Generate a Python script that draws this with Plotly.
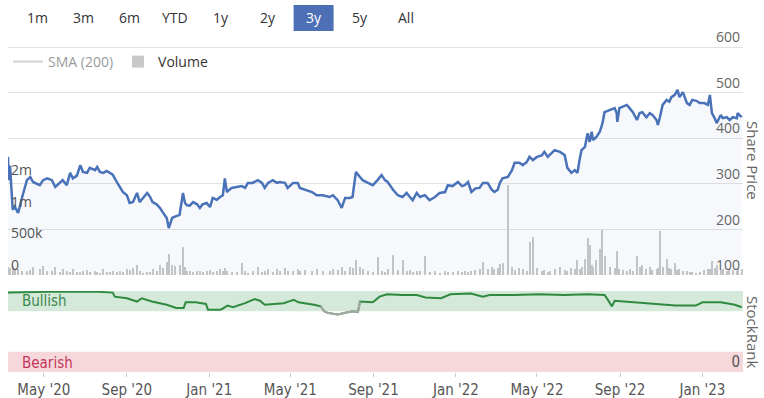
import pandas as pd
import plotly.graph_objects as go

# ---------------- data ----------------
start_date = pd.Timestamp("2020-03-09")

price_days = [0, 1, 3, 7, 10, 15, 21, 28, 33, 37, 47, 52, 58, 65, 70, 77, 81, 87, 92, 96,
              102, 107, 111, 117, 121, 129, 132, 136, 141, 146, 151, 155, 161, 166, 170, 176, 180, 185, 191, 195,
              200, 206, 210, 214, 220, 225, 229, 235, 238, 243, 247, 254, 259, 262, 265, 269, 274, 280, 284, 288,
              294, 299, 303, 309, 314, 318, 321, 324, 331, 339, 346, 351, 355, 362, 370, 376, 380, 385, 392, 398,
              402, 410, 414, 422, 429, 432, 439, 450, 457, 466, 476, 481, 488, 494, 499, 506, 510, 515, 521, 525,
              533, 540, 547, 553, 558, 562, 570, 577, 584, 590, 595, 599, 605, 610, 617, 624, 632, 639, 647, 651,
              658, 666, 672, 676, 681, 686, 692, 698, 703, 710, 716, 720, 725, 728, 732, 740, 746, 750, 757, 762,
              768, 772, 777, 783, 790, 794, 799, 802, 809, 817, 824, 828, 834, 839, 843, 846, 849, 854, 858, 861,
              864, 866, 871, 876, 880, 883, 891, 898, 901, 902, 905, 910, 916, 920, 925, 931, 935, 939, 945, 950,
              954, 960, 962, 965, 969, 975, 979, 982, 987, 991, 994, 999, 1005, 1009, 1013, 1019, 1024, 1031, 1036, 1039,
              1042, 1046, 1049, 1055, 1058, 1064, 1068, 1073, 1079, 1080, 1086]

share_price = [359, 308, 340, 243, 250, 236, 271, 308, 315, 304, 297, 308, 312, 308, 293, 302, 308, 297, 324, 312,
               318, 341, 326, 324, 335, 330, 337, 326, 324, 328, 324, 320, 304, 291, 282, 275, 258, 260, 280, 260,
               268, 280, 272, 260, 255, 247, 238, 225, 203, 225, 228, 232, 280, 258, 253, 252, 260, 255, 247, 255,
               258, 249, 269, 265, 271, 275, 312, 282, 291, 293, 295, 291, 302, 302, 308, 302, 291, 302, 308, 302,
               304, 302, 291, 302, 302, 291, 287, 282, 275, 275, 271, 275, 264, 247, 269, 269, 271, 326, 315, 308,
               302, 297, 308, 319, 308, 304, 287, 275, 271, 280, 271, 264, 280, 271, 275, 264, 271, 280, 282, 297,
               295, 304, 295, 297, 304, 282, 290, 291, 302, 302, 287, 282, 287, 302, 312, 315, 330, 346, 346, 341,
               348, 359, 352, 359, 362, 370, 359, 363, 374, 370, 363, 335, 324, 330, 324, 352, 374, 381, 411, 392,
               414, 396, 403, 414, 433, 457, 462, 466, 455, 436, 466, 469, 473, 466, 457, 440, 455, 457, 446, 455,
               451, 440, 429, 446, 473, 484, 480, 490, 495, 506, 490, 501, 477, 473, 484, 482, 477, 477, 473, 495,
               455, 444, 433, 451, 444, 446, 440, 446, 444, 455, 446]

volume_thousands = [120, 90, 110, 140, 100, 90, 70, 60, 80, 120, 90, 140, 60, 70, 130, 50, 100, 60, 40, 90,
                    50, 40, 60, 80, 50, 70, 40, 30, 90, 40, 50, 60, 40, 70, 50, 90, 80, 110, 160, 60,
                    30, 40, 50, 90, 70, 150, 110, 200, 330, 160, 140, 150, 440, 120, 70, 60, 40, 70, 60, 50,
                    60, 80, 50, 60, 90, 70, 110, 60, 40, 50, 190, 60, 30, 70, 120, 40, 60, 90, 50, 100,
                    60, 110, 70, 60, 100, 70, 80, 60, 90, 70, 60, 90, 80, 120, 70, 130, 110, 235, 120, 90,
                    60, 40, 280, 60, 40, 90, 315, 80, 240, 60, 80, 50, 70, 60, 300, 40, 60, 30, 70, 50,
                    40, 60, 50, 70, 40, 60, 80, 90, 205, 100, 120, 90, 110, 175, 190, 1420, 130, 80, 110, 90,
                    70, 520, 600, 110, 60, 80, 40, 70, 90, 120, 80, 60, 110, 90, 235, 100, 130, 250, 590, 470,
                    150, 120, 235, 410, 710, 300, 120, 110, 90, 380, 100, 80, 60, 90, 70, 300, 130, 160, 100, 120,
                    80, 90, 110, 700, 130, 250, 110, 90, 190, 80, 100, 70, 60, 40, 50, 30, 40, 80, 90, 100,
                    220, 110, 150, 80, 90, 70, 100, 80, 60, 110, 90]

rank_days = [0, 61, 133, 155, 158, 176, 191, 198, 213, 235, 249, 260, 263, 278, 293, 296, 315, 325, 333, 351,
             365, 373, 380, 395, 408, 423, 430, 453, 463, 468, 473, 488, 503, 510, 518, 521, 540, 550, 561, 583,
             605, 618, 641, 655, 685, 703, 713, 750, 786, 823, 858, 883, 888, 894, 898, 931, 960, 988, 1018, 1028,
             1055, 1076, 1086]
stock_rank = [98, 99, 99, 98, 93, 91, 87, 91, 87, 83, 79, 79, 86, 86, 84, 77, 77, 82, 80, 85,
              90, 88, 83, 84, 85, 89, 86, 83, 81, 75, 73, 71, 74, 75, 74, 87, 86, 93, 96, 95,
              95, 92, 91, 96, 97, 93, 95, 95, 96, 95, 96, 95, 89, 81, 88, 86, 84, 82, 82, 86,
              86, 83, 80]

range_buttons = ["1m", "3m", "6m", "YTD", "1y", "2y", "3y", "5y", "All"]
active_button = "3y"
volume_ticks = [0, 500000, 1000000, 1500000]
volume_tick_text = ["0", "500k", "1m", "2m"]

# ---------------- derived ----------------
price_dates = start_date + pd.to_timedelta(price_days, unit="D")
rank_dates = start_date + pd.to_timedelta(rank_days, unit="D")
volume = [v * 1000 for v in volume_thousands]

neutral_mask = [r < 76 for r in stock_rank]
gray_rank = []
for i, r in enumerate(stock_rank):
    near = neutral_mask[i] or (i > 0 and neutral_mask[i - 1]) or (i + 1 < len(stock_rank) and neutral_mask[i + 1])
    gray_rank.append(r if near else None)

BLUE = "#4a72b9"
GREEN = "#2f8a3f"
COND = "Liberation Sans Narrow, DejaVu Sans Condensed, Arial Narrow, sans-serif"
SANS = "Open Sans, Noto Sans, sans-serif"

W, H = 764, 398
ML, MR, MT, MB = 8, 21, 18, 26
pw, ph = W - ML - MR, H - MT - MB


def px_x(px):
    return (px - ML) / pw


def px_y(py):
    return (H - MB - py) / ph


# price axis: 600 at y=47, 100 at y=275
ppp = 228 / 500.0
price_top = 600 + (47 - MT) / ppp
vol_top = 500000 * (275 - MT) / 31.7

fig = go.Figure()
fig.add_trace(go.Scatter(x=price_dates[:1], y=[None], name="SMA (200)", visible="legendonly",
                         mode="lines", line=dict(color="#aaaaaa", width=2), xaxis="x", yaxis="y2"))
fig.add_trace(go.Bar(x=price_dates, y=volume, name="Volume", marker=dict(color="#c8c8c8", line=dict(width=0)),
                     width=86400000 * 1.5, xaxis="x", yaxis="y", hoverinfo="skip"))
fig.add_trace(go.Scatter(x=price_dates, y=share_price, name="Share Price", mode="lines", showlegend=False,
                         line=dict(color=BLUE, width=2.5), fill="tozeroy", fillcolor="rgba(70,110,200,0.05)",
                         xaxis="x", yaxis="y2"))
fig.add_trace(go.Scatter(x=rank_dates, y=stock_rank, name="StockRank", mode="lines", showlegend=False,
                         line=dict(color=GREEN, width=2), xaxis="x", yaxis="y3"))
fig.add_trace(go.Scatter(x=rank_dates, y=gray_rank, name="StockRank", mode="lines", showlegend=False,
                         line=dict(color="#a8a8a8", width=2), xaxis="x", yaxis="y3", connectgaps=False))

shapes = [
    dict(type="rect", xref="paper", yref="y3", x0=0, x1=1, y0=75, y1=100, fillcolor="#d5e9da",
         line=dict(width=0), layer="below"),
    dict(type="rect", xref="paper", yref="y3", x0=0, x1=1, y0=0, y1=25, fillcolor="#f6d7dc",
         line=dict(width=0), layer="below"),
]

annotations = []
for i, b in enumerate(range_buttons):
    cx = 37 + i * 46.1
    if b == active_button:
        shapes.append(dict(type="rect", xref="paper", yref="paper", x0=px_x(cx - 20), x1=px_x(cx + 20),
                           y0=px_y(31), y1=px_y(5), fillcolor="#4d6fb6", line=dict(width=0)))
    annotations.append(dict(text=b, xref="paper", yref="paper", x=px_x(cx), y=px_y(17), showarrow=False,
                            xanchor="center", yanchor="middle",
                            font=dict(family=SANS, size=14, color="#ffffff" if b == active_button else "#333333")))

annotations += [
    dict(text="Share Price", xref="paper", yref="paper", x=px_x(753), y=px_y(160), textangle=90,
         xanchor="center", yanchor="middle",
         showarrow=False, font=dict(family=SANS, size=15, color="#666666")),
    dict(text="StockRank", xref="paper", yref="paper", x=px_x(753), y=px_y(332), textangle=90,
         xanchor="center", yanchor="middle",
         showarrow=False, font=dict(family=SANS, size=15, color="#666666")),
    dict(text="Bullish", xref="paper", yref="y3", x=px_x(20), y=88, xanchor="left", yanchor="middle",
         showarrow=False, font=dict(family=COND, size=15, color="#3b8a4b")),
    dict(text="Bearish", xref="paper", yref="y3", x=px_x(20), y=11, xanchor="left", yanchor="middle",
         showarrow=False, font=dict(family=COND, size=15, color="#c4375b")),
]

fig.update_layout(
    width=W, height=H,
    margin=dict(l=ML, r=MR, t=MT, b=MB, autoexpand=False),
    paper_bgcolor="white", plot_bgcolor="white",
    showlegend=True,
    legend=dict(orientation="h", x=0, y=px_y(62), xanchor="left", yanchor="middle",
                font=dict(family=SANS, size=14, color="#333333"), bgcolor="rgba(0,0,0,0)",
                traceorder="normal"),
    xaxis=dict(type="date", range=["2020-03-09", "2023-03-02"], anchor="y3", tickformat="%b '%y",
               dtick="M4", tick0="2020-01-01", ticks="outside", ticklen=4, tickcolor="#cccccc",
               showgrid=False, showline=False, zeroline=False,
               tickfont=dict(family=COND, size=15, color="#555555")),
    yaxis=dict(domain=[px_y(275), 1], range=[0, vol_top], side="left", anchor="x",
               tickvals=volume_ticks, ticktext=volume_tick_text, ticklabelposition="inside top",
               showgrid=False, zeroline=False, tickfont=dict(family=SANS, size=14, color="#555555")),
    yaxis2=dict(overlaying="y", range=[100, price_top], side="right", anchor="x", dtick=100,
                ticklabelposition="inside top", showgrid=True, gridcolor="#e3e3e3", zeroline=False,
                tickfont=dict(family=SANS, size=14, color="#666666")),
    yaxis3=dict(domain=[0, px_y(291)], range=[0, 100], side="right", anchor="x",
                tickvals=[0], ticktext=["0"], ticklabelposition="inside top", showgrid=False,
                zeroline=False, tickfont=dict(family=COND, size=15, color="#555555")),
    shapes=shapes,
    annotations=annotations,
    bargap=0,
)

fig.write_html("out.html", config={"displayModeBar": False},
               post_script="document.body.style.margin='0';document.body.style.overflow='hidden';")
